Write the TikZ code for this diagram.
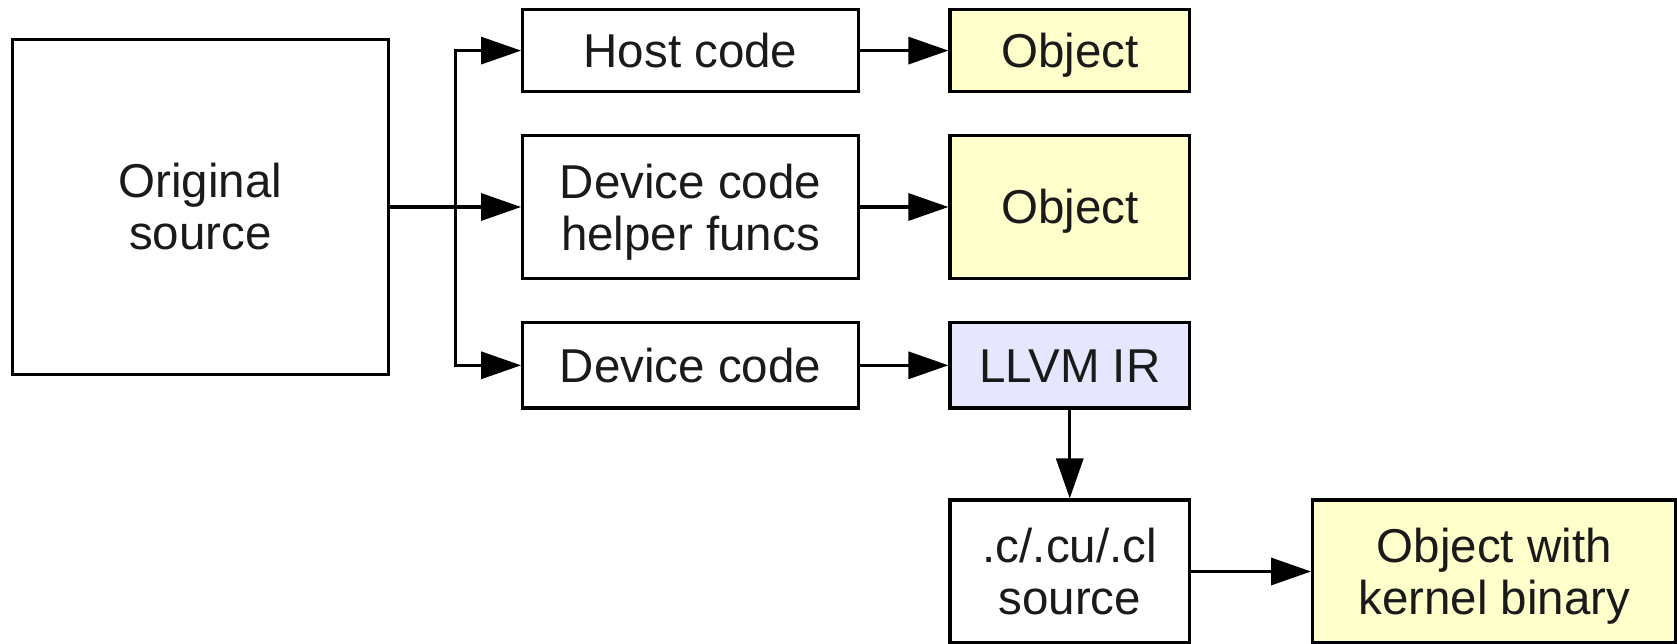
\documentclass[tikz,border=0pt]{standalone}
\usepackage{fontspec}
\setmainfont{Liberation Sans}
\usetikzlibrary{arrows.meta}
\definecolor{objfill}{HTML}{FFFFCC}
\definecolor{irfill}{HTML}{E6E6FF}
\definecolor{txt}{HTML}{1A1A1A}
\begin{document}
\begin{tikzpicture}[x=1pt,y=-1pt,
  box/.style={draw=black,line width=3.2pt,fill=white,inner sep=0pt,
    align=center,text=txt,font=\fontsize{47.5}{52}\selectfont},
  one/.style={text height=34pt,text depth=0pt},
  nodesc/.style={text depth=0pt},
  obj/.style={box,fill=objfill},
  ir/.style={box,fill=irfill},
  arr/.style={draw=black,line width=3.2pt,-{Triangle[length=40pt,width=27pt]}}]
\useasboundingbox (0,0) rectangle (1677,644);

% source file and the three extracted parts
\node[box,minimum width=376.4pt,minimum height=335.5pt] (orig) at (200.5,207) {Original\\source};
\node[box,one,minimum width=335.6pt,minimum height=82.2pt] (host) at (690.5,50.6) {Host code};
\node[box,nodesc,minimum width=335.6pt,minimum height=143pt] (helper) at (690.5,207) {Device code\\helper funcs};
\node[box,one,minimum width=335.6pt,minimum height=85.3pt] (dev) at (690.5,365.3) {Device code};

% compiled outputs
\node[obj,one,minimum width=239.5pt,minimum height=82.2pt] (obj1) at (1069.75,50.6) {Object};
\node[obj,one,minimum width=239.5pt,minimum height=143pt] (obj2) at (1069.75,207) {Object};
\node[ir,one,minimum width=239.5pt,minimum height=85.3pt] (llvm) at (1069.75,365.3) {LLVM IR};
\node[box,minimum width=239.5pt,minimum height=143pt] (src) at (1069.75,571.5) {.c/.cu/.cl\\source};
\node[obj,nodesc,minimum width=363.3pt,minimum height=143pt] (kern) at (1494.3,571.5) {Object with\\kernel binary};

% connectors
\coordinate (split) at (455.7,207);
\draw[arr] (orig) -- (helper);
\draw[arr] (split) |- (host);
\draw[arr] (split) |- (dev);
\draw[arr] (host) -- (obj1);
\draw[arr] (helper) -- (obj2);
\draw[arr] (dev) -- (llvm);
\draw[arr] (llvm) -- (src);
\draw[arr] (src) -- (kern);
\end{tikzpicture}
\end{document}
